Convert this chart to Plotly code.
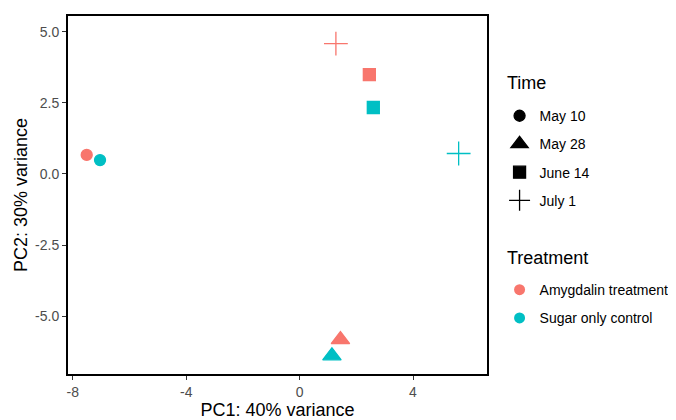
import plotly.graph_objects as go

# Data
samples_time = ["May 10", "May 10", "May 28", "May 28", "June 14", "June 14", "July 1", "July 1"]
samples_treatment = ["Amygdalin treatment", "Sugar only control"] * 4
pc1 = [-7.51, -7.04, 1.44, 1.14, 2.46, 2.60, 1.28, 5.61]
pc2 = [0.67, 0.49, -5.83, -6.40, 3.50, 2.34, 4.59, 0.72]

time_levels = ["May 10", "May 28", "June 14", "July 1"]
treatment_levels = ["Amygdalin treatment", "Sugar only control"]

x_ticks = [-8, -4, 0, 4]
y_ticks = [-5.0, -2.5, 0.0, 2.5, 5.0]
y_ticklabels = ["-5.0", "-2.5", "0.0", "2.5", "5.0"]

colors = {"Amygdalin treatment": "#F8766D", "Sugar only control": "#00BFC4"}
symbols = {"May 10": "circle", "May 28": "triangle-up", "June 14": "square", "July 1": "cross-thin"}
sizes = {"May 10": 11, "May 28": 16, "June 14": 12, "July 1": 17}

fig = go.Figure()

for t, tr, x, y in zip(samples_time, samples_treatment, pc1, pc2):
    col = colors[tr]
    fig.add_trace(go.Scatter(
        x=[x], y=[y], mode="markers", showlegend=False,
        marker=dict(symbol=symbols[t], size=sizes[t], color=col,
                    line=dict(color=col, width=1.3)),
        hovertemplate=f"{tr}<br>{t}<extra></extra>",
    ))

# Time legend (shapes)
for i, t in enumerate(time_levels):
    fig.add_trace(go.Scatter(
        x=[None], y=[None], mode="markers", name=t, legend="legend",
        legendgroup=f"time{i}",
        marker=dict(symbol=symbols[t], size=min(sizes[t], 15), color="black",
                    line=dict(color="black", width=1.3)),
    ))

# Treatment legend (colours)
for i, tr in enumerate(treatment_levels):
    fig.add_trace(go.Scatter(
        x=[None], y=[None], mode="markers", name=tr, legend="legend2",
        legendgroup=f"treat{i}",
        marker=dict(symbol="circle", size=11, color=colors[tr]),
    ))

font_family = "Liberation Sans, Arial, sans-serif"

# Legend titles as annotations (for ggplot-like spacing)
fig.add_annotation(text="Time", x=1.044, y=0.813, xref="paper", yref="paper",
                   xanchor="left", yanchor="middle", showarrow=False,
                   font=dict(size=18, color="black"))
fig.add_annotation(text="Treatment", x=1.044, y=0.324, xref="paper", yref="paper",
                   xanchor="left", yanchor="middle", showarrow=False,
                   font=dict(size=18, color="black"))

# The page body has an 8px default margin, so the figure is 8px smaller
fig.update_layout(
    width=668, height=412,
    margin=dict(l=60, r=189, t=8, b=46, autoexpand=False),
    paper_bgcolor="white", plot_bgcolor="white",
    font=dict(family=font_family, color="black"),
    xaxis=dict(
        range=[-8.17, 6.61], tickvals=x_ticks, ticktext=[str(v) for v in x_ticks],
        showgrid=False, zeroline=False, showline=True, mirror=True, automargin=False,
        linecolor="black", linewidth=2, ticks="outside", ticklen=4, tickcolor="#333333",
        tickfont=dict(size=14, color="#4D4D4D"),
        title=dict(text="PC1: 40% variance", font=dict(size=18, color="black"), standoff=6),
    ),
    yaxis=dict(
        range=[-7.04, 5.56], tickvals=y_ticks, ticktext=y_ticklabels,
        showgrid=False, zeroline=False, showline=True, mirror=True, automargin=False,
        linecolor="black", linewidth=2, ticks="outside", ticklen=4, tickcolor="#333333",
        tickfont=dict(size=14, color="#4D4D4D"),
        title=dict(text="PC2: 30% variance", font=dict(size=18, color="black"), standoff=3),
    ),
    legend=dict(
        x=1.030, y=0.765, xanchor="left", yanchor="top",
        font=dict(size=14), traceorder="grouped", tracegroupgap=7,
        bgcolor="rgba(0,0,0,0)", itemsizing="trace",
    ),
    legend2=dict(
        x=1.030, y=0.279, xanchor="left", yanchor="top",
        font=dict(size=14), traceorder="grouped", tracegroupgap=7,
        bgcolor="rgba(0,0,0,0)", itemsizing="trace",
    ),
)

fig.write_html("out.html")
